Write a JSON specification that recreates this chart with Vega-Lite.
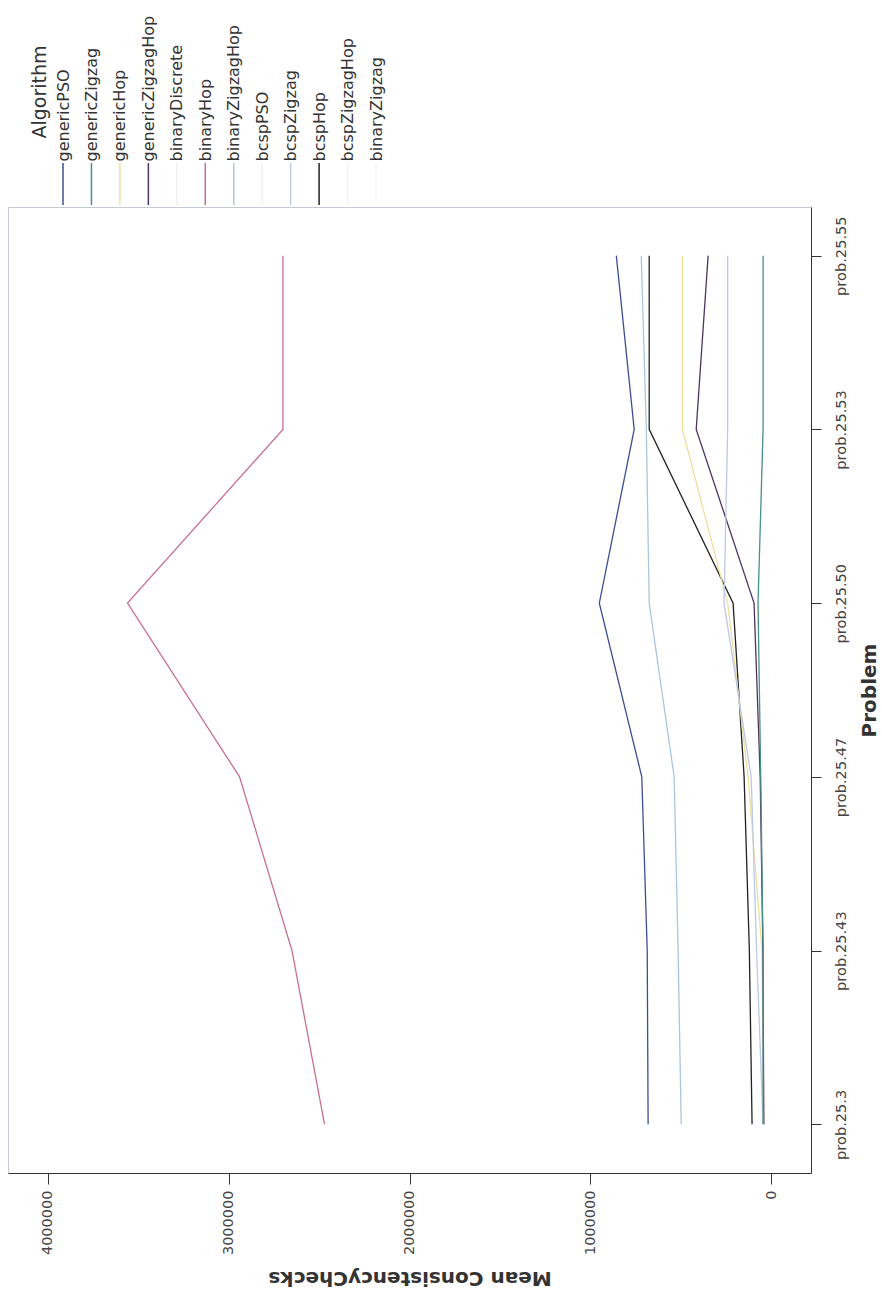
{
  "$schema": "https://vega.github.io/schema/vega-lite/v6.json",
  "background": "white",
  "padding": {"left": 7, "top": 15, "right": 0, "bottom": 0},
  "spacing": 0,
  "config": {"font": "DejaVu Sans"},
  "datasets": {
    "legend": [
      {"Algorithm": "genericPSO"}, {"Algorithm": "genericZigzag"}, {"Algorithm": "genericHop"},
      {"Algorithm": "genericZigzagHop"}, {"Algorithm": "binaryDiscrete"}, {"Algorithm": "binaryHop"},
      {"Algorithm": "binaryZigzagHop"}, {"Algorithm": "bcspPSO"}, {"Algorithm": "bcspZigzag"},
      {"Algorithm": "bcspHop"}, {"Algorithm": "bcspZigzagHop"}, {"Algorithm": "binaryZigzag"}
    ],
    "series": [
      {"Algorithm": "genericPSO", "Problem": "prob.25.3", "Checks": 680000},
      {"Algorithm": "genericPSO", "Problem": "prob.25.43", "Checks": 685000},
      {"Algorithm": "genericPSO", "Problem": "prob.25.47", "Checks": 715000},
      {"Algorithm": "genericPSO", "Problem": "prob.25.50", "Checks": 950000},
      {"Algorithm": "genericPSO", "Problem": "prob.25.53", "Checks": 757000},
      {"Algorithm": "genericPSO", "Problem": "prob.25.55", "Checks": 856000},
      {"Algorithm": "binaryZigzagHop", "Problem": "prob.25.3", "Checks": 497000},
      {"Algorithm": "binaryZigzagHop", "Problem": "prob.25.43", "Checks": 514000},
      {"Algorithm": "binaryZigzagHop", "Problem": "prob.25.47", "Checks": 536000},
      {"Algorithm": "binaryZigzagHop", "Problem": "prob.25.50", "Checks": 674000},
      {"Algorithm": "binaryZigzagHop", "Problem": "prob.25.53", "Checks": 690000},
      {"Algorithm": "binaryZigzagHop", "Problem": "prob.25.55", "Checks": 718000},
      {"Algorithm": "bcspHop", "Problem": "prob.25.3", "Checks": 105000},
      {"Algorithm": "bcspHop", "Problem": "prob.25.43", "Checks": 120000},
      {"Algorithm": "bcspHop", "Problem": "prob.25.47", "Checks": 149000},
      {"Algorithm": "bcspHop", "Problem": "prob.25.50", "Checks": 210000},
      {"Algorithm": "bcspHop", "Problem": "prob.25.53", "Checks": 674000},
      {"Algorithm": "bcspHop", "Problem": "prob.25.55", "Checks": 674000},
      {"Algorithm": "genericHop", "Problem": "prob.25.3", "Checks": 40000},
      {"Algorithm": "genericHop", "Problem": "prob.25.43", "Checks": 50000},
      {"Algorithm": "genericHop", "Problem": "prob.25.47", "Checks": 127000},
      {"Algorithm": "genericHop", "Problem": "prob.25.50", "Checks": 240000},
      {"Algorithm": "genericHop", "Problem": "prob.25.53", "Checks": 490000},
      {"Algorithm": "genericHop", "Problem": "prob.25.55", "Checks": 490000},
      {"Algorithm": "genericZigzagHop", "Problem": "prob.25.3", "Checks": 40000},
      {"Algorithm": "genericZigzagHop", "Problem": "prob.25.43", "Checks": 45000},
      {"Algorithm": "genericZigzagHop", "Problem": "prob.25.47", "Checks": 60000},
      {"Algorithm": "genericZigzagHop", "Problem": "prob.25.50", "Checks": 94000},
      {"Algorithm": "genericZigzagHop", "Problem": "prob.25.53", "Checks": 414000},
      {"Algorithm": "genericZigzagHop", "Problem": "prob.25.55", "Checks": 348000},
      {"Algorithm": "bcspZigzag", "Problem": "prob.25.3", "Checks": 44000},
      {"Algorithm": "bcspZigzag", "Problem": "prob.25.43", "Checks": 80000},
      {"Algorithm": "bcspZigzag", "Problem": "prob.25.47", "Checks": 110000},
      {"Algorithm": "bcspZigzag", "Problem": "prob.25.50", "Checks": 260000},
      {"Algorithm": "bcspZigzag", "Problem": "prob.25.53", "Checks": 240000},
      {"Algorithm": "bcspZigzag", "Problem": "prob.25.55", "Checks": 240000},
      {"Algorithm": "genericZigzag", "Problem": "prob.25.3", "Checks": 44000},
      {"Algorithm": "genericZigzag", "Problem": "prob.25.43", "Checks": 44000},
      {"Algorithm": "genericZigzag", "Problem": "prob.25.47", "Checks": 57000},
      {"Algorithm": "genericZigzag", "Problem": "prob.25.50", "Checks": 72000},
      {"Algorithm": "genericZigzag", "Problem": "prob.25.53", "Checks": 44000},
      {"Algorithm": "genericZigzag", "Problem": "prob.25.55", "Checks": 44000},
      {"Algorithm": "binaryHop", "Problem": "prob.25.3", "Checks": 2470000},
      {"Algorithm": "binaryHop", "Problem": "prob.25.43", "Checks": 2650000},
      {"Algorithm": "binaryHop", "Problem": "prob.25.47", "Checks": 2940000},
      {"Algorithm": "binaryHop", "Problem": "prob.25.50", "Checks": 3560000},
      {"Algorithm": "binaryHop", "Problem": "prob.25.53", "Checks": 2700000},
      {"Algorithm": "binaryHop", "Problem": "prob.25.55", "Checks": 2700000}
    ]
  },
  "vconcat": [
    {
      "width": 803,
      "height": 42,
      "data": {"name": "legend"},
      "view": {"stroke": null},
      "mark": {"type": "rule", "strokeWidth": 1.5},
      "encoding": {
        "x": {
          "field": "Algorithm",
          "type": "nominal",
          "sort": null,
          "scale": {
            "type": "point",
            "domain": ["genericPSO", "genericZigzag", "genericHop", "genericZigzagHop", "binaryDiscrete", "binaryHop", "binaryZigzagHop", "bcspPSO", "bcspZigzag", "bcspHop", "bcspZigzagHop", "binaryZigzag"],
            "range": [55, 368],
            "padding": 0
          },
          "axis": {
            "orient": "top",
            "domain": false,
            "ticks": false,
            "tickSize": 0,
            "labelAngle": 270,
            "labelAlign": "left",
            "labelBaseline": "middle",
            "labelPadding": 2,
            "labelFontSize": 16,
            "labelFont": "DejaVu Sans",
            "labelColor": "#333333",
            "labelOverlap": false,
            "labelLimit": 400,
            "title": "Algorithm",
            "titleAngle": 270,
            "titleAlign": "left",
            "titleBaseline": "middle",
            "titleX": 31,
            "titleY": -25,
            "titleFontSize": 19,
            "titleFontWeight": "normal",
            "titleFont": "DejaVu Sans",
            "titleColor": "#333333"
          }
        },
        "color": {
          "field": "Algorithm",
          "type": "nominal",
          "scale": {
            "domain": ["genericPSO", "genericZigzag", "genericHop", "genericZigzagHop", "binaryDiscrete", "binaryHop", "binaryZigzagHop", "bcspPSO", "bcspZigzag", "bcspHop", "bcspZigzagHop", "binaryZigzag"],
            "range": ["#3d4f94", "#4a8f8a", "#ece0a0", "#4e3560", "#f2eef2", "#c8708a", "#a9c6e0", "#f0f0f0", "#bcc8e6", "#222222", "#f2f2f2", "#f4f4f4"]
          },
          "legend": null
        }
      }
    },
    {
      "width": 803,
      "height": 966,
      "data": {"name": "series"},
      "view": {"stroke": "#c5cad3"},
      "mark": {"type": "line", "strokeWidth": 1.3},
      "encoding": {
        "x": {
          "field": "Checks",
          "type": "quantitative",
          "scale": {"domain": [-221000, 4221000], "reverse": true, "nice": false, "zero": false},
          "axis": {
            "orient": "bottom",
            "values": [0, 1000000, 2000000, 3000000, 4000000],
            "format": "d",
            "grid": false,
            "domainColor": "#333333",
            "tickColor": "#333333",
            "tickSize": 11,
            "labelAngle": 270,
            "labelAlign": "right",
            "labelBaseline": "middle",
            "labelPadding": 6,
            "labelFontSize": 14.5,
            "labelFont": "DejaVu Sans",
            "labelColor": "#444444",
            "labelFlush": false,
            "labelOverlap": false,
            "title": "Mean ConsistencyChecks",
            "titleAngle": 180,
            "titleAlign": "center",
            "titleBaseline": "bottom",
            "titleFont": "DejaVu Sans",
            "titleFontSize": 20,
            "titleFontWeight": "bold",
            "titleColor": "#333333",
            "titlePadding": 13
          }
        },
        "y": {
          "field": "Problem",
          "type": "ordinal",
          "scale": {
            "type": "point",
            "domain": ["prob.25.55", "prob.25.53", "prob.25.50", "prob.25.47", "prob.25.43", "prob.25.3"],
            "padding": 0.28
          },
          "axis": {
            "orient": "right",
            "domainColor": "#333333",
            "tickColor": "#333333",
            "tickSize": 10,
            "labelAngle": 270,
            "labelAlign": "center",
            "labelBaseline": "top",
            "labelPadding": 12,
            "labelFontSize": 14.6,
            "labelFont": "DejaVu Sans",
            "labelColor": "#444444",
            "labelOverlap": false,
            "title": "Problem",
            "titleAngle": 270,
            "titleAlign": "center",
            "titleBaseline": "top",
            "titleFont": "DejaVu Sans",
            "titleFontSize": 20,
            "titleFontWeight": "bold",
            "titleColor": "#333333",
            "titlePadding": 12
          }
        },
        "color": {
          "field": "Algorithm",
          "type": "nominal",
          "scale": {
            "domain": ["genericPSO", "genericZigzag", "genericHop", "genericZigzagHop", "binaryDiscrete", "binaryHop", "binaryZigzagHop", "bcspPSO", "bcspZigzag", "bcspHop", "bcspZigzagHop", "binaryZigzag"],
            "range": ["#3d4f94", "#4a8f8a", "#ece0a0", "#4e3560", "#f2eef2", "#c8708a", "#a9c6e0", "#f0f0f0", "#bcc8e6", "#222222", "#f2f2f2", "#f4f4f4"]
          },
          "legend": null
        },
        "order": {"field": "Problem", "type": "ordinal"}
      }
    }
  ]
}
